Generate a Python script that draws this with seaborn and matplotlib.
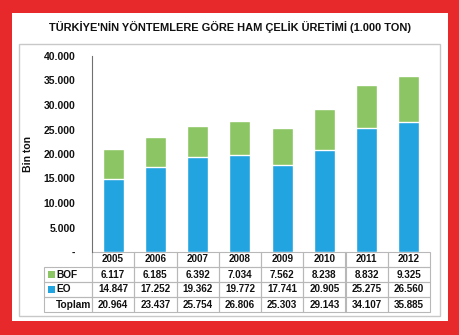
import matplotlib
matplotlib.use("Agg")
import matplotlib.pyplot as plt
import seaborn as sns
import pandas as pd
from matplotlib.patches import Rectangle

# Crude steel production in Turkey by method (thousand tonnes)
years = ["2005", "2006", "2007", "2008", "2009", "2010", "2011", "2012"]
bof = [6117, 6185, 6392, 7034, 7562, 8238, 8832, 9325]
eo = [14847, 17252, 19362, 19772, 17741, 20905, 25275, 26560]
toplam = [20964, 23437, 25754, 26806, 25303, 29143, 34107, 35885]
row_names = ["BOF", "EO", "Toplam"]
y_ticks = [0, 5000, 10000, 15000, 20000, 25000, 30000, 35000, 40000]
title = "TÜRKİYE'NİN YÖNTEMLERE GÖRE HAM ÇELİK ÜRETİMİ (1.000 TON)"
y_label = "Bin ton"

BLUE = "#21a4df"
GREEN = "#8cc563"
RED = "#e8292c"
GRID_GRAY = "#b8b8b8"

sns.set_style("white")
plt.rcParams["font.family"] = ["Liberation Sans", "DejaVu Sans"]

W, H = 460, 335


def fmt(v):
    return "-" if v == 0 else f"{v:,}".replace(",", ".")


def box(x0, y0, x1, y1):
    """Pixel box (top-left origin) -> figure fraction rect."""
    return [x0 / W, 1 - y1 / H, (x1 - x0) / W, (y1 - y0) / H]


fig = plt.figure(figsize=(W / 100, H / 100), dpi=100, facecolor=RED)

# white page inside the red border, and the light gray chart frame
r = box(12, 13, 448, 321)
fig.patches.append(Rectangle((r[0], r[1]), r[2], r[3], transform=fig.transFigure,
                             facecolor="white", edgecolor="none", zorder=-5))
r = box(19, 44, 440, 316)
fig.patches.append(Rectangle((r[0], r[1]), r[2], r[3], transform=fig.transFigure,
                             facecolor="none", edgecolor="#c8c8c8", lw=1.0, zorder=-4))

fig.text(230 / W, 1 - 27 / H, title, ha="center", va="center",
         fontsize=7.9, fontweight="bold", color="#111111")

# plot area
AX_X0, AX_Y0, AX_X1, AX_Y1 = 92, 56, 430, 252
ax = fig.add_axes(box(AX_X0, AX_Y0, AX_X1, AX_Y1))
ax.set_facecolor("none")
ax_w = AX_X1 - AX_X0
ax_h = AX_Y1 - AX_Y0

df = pd.DataFrame({"year": years, "BOF": bof, "EO": eo, "Toplam": toplam})
# total height in green, EO drawn over it in blue -> BOF shows on top
sns.barplot(data=df, x="year", y="Toplam", order=years, color=GREEN,
            saturation=1, width=0.5, ax=ax, zorder=2)
sns.barplot(data=df, x="year", y="EO", order=years, color=BLUE,
            saturation=1, width=0.5, ax=ax, zorder=3)

ax.set_xlim(-0.5, len(years) - 0.5)
ax.set_ylim(0, 40000)
ax.set_yticks(y_ticks)
ax.set_yticklabels([fmt(v) for v in y_ticks], fontsize=7.5, fontweight="bold",
                   color="#111111")
ax.tick_params(axis="y", length=0, pad=12)
ax.tick_params(axis="x", length=0, labelbottom=False)
ax.set_xlabel("")
ax.set_ylabel(y_label, fontsize=7.5, fontweight="bold", color="#111111")
ax.yaxis.set_label_coords((33 - AX_X0) / ax_w, 0.5)
for s in ["top", "right", "bottom"]:
    ax.spines[s].set_visible(False)
ax.spines["left"].set_color("#707070")
ax.spines["left"].set_linewidth(0.8)

# data table under the bars; first column holds the row labels
label_w = 48
row_h = 15
table_h = 4 * row_h
col_w = ax_w / len(years)
cell_text = [[""] + [fmt(v) for v in series] for series in (bof, eo, toplam)]
tbl = ax.table(cellText=cell_text, colLabels=[""] + years,
               colWidths=[label_w / ax_w] + [col_w / ax_w] * len(years),
               cellLoc="center",
               bbox=[-label_w / ax_w, -table_h / ax_h,
                     (ax_w + label_w) / ax_w, table_h / ax_h])
tbl.auto_set_font_size(False)
tbl.set_fontsize(7.1)
for (ri, ci), cell in tbl.get_celld().items():
    cell.set_edgecolor(GRID_GRAY)
    cell.set_linewidth(0.8)
    cell.set_facecolor("none")
    cell.get_text().set_fontweight("bold")
    cell.get_text().set_color("#111111")
    if ri == 0 and ci == 0:
        cell.visible_edges = ""

# row labels with legend swatches
for i, name in enumerate(row_names):
    yc = -((i + 1.5) * row_h) / ax_h
    ax.text((56 - AX_X0) / ax_w, yc, name, transform=ax.transAxes,
            ha="left", va="center", fontsize=7.3, fontweight="bold",
            color="#111111", clip_on=False)
    swatch = {"BOF": GREEN, "EO": BLUE}.get(name)
    if swatch:
        ax.add_patch(Rectangle(((48 - AX_X0) / ax_w, yc - 3.5 / ax_h),
                               7 / ax_w, 7 / ax_h, transform=ax.transAxes,
                               facecolor=swatch, edgecolor="none",
                               clip_on=False))

fig.savefig("out.png", dpi=100, facecolor=fig.get_facecolor())
